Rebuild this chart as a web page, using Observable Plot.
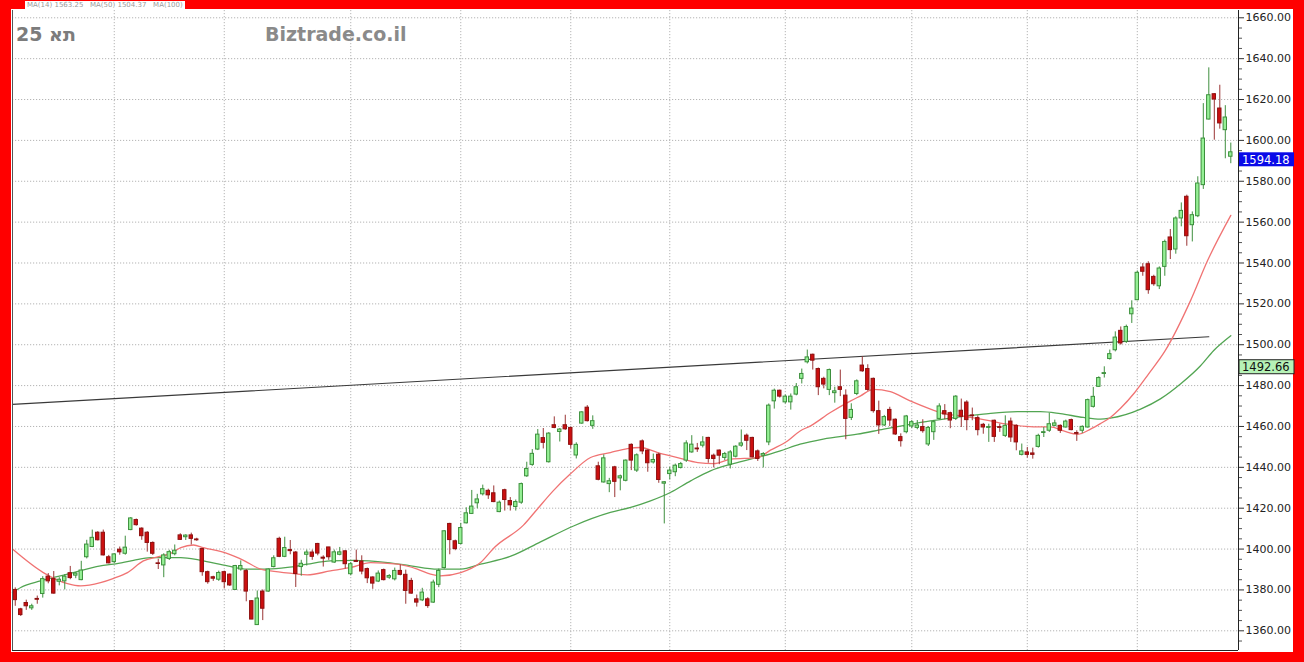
<!DOCTYPE html>
<html>
<head>
<meta charset="utf-8">
<script src="https://cdn.jsdelivr.net/npm/d3@7"></script>
<script src="https://cdn.jsdelivr.net/npm/@observablehq/plot@0.6"></script>
<style>
  html, body { margin: 0; padding: 0; width: 1304px; height: 662px; overflow: hidden; background: #ff0000; }
  #panel { position: absolute; left: 11px; top: 9px; width: 1282px; height: 643px; background: #ffffff; }
  #chart { position: absolute; left: 0; top: 0; }
  #legendStrip { position: absolute; left: 25px; top: 1px; height: 8px; padding: 0 2px; background: #fff; }
  #legendStrip span { display: block; font: 7px/8px "DejaVu Sans"; color: #9a9a9a; white-space: nowrap; }
  .ovl { position: absolute; font-family: "DejaVu Sans"; font-weight: bold; font-size: 19px; line-height: 19px; }
  #title { left: 16px; top: 25px; color: #7c7c7c; }
  #brand { left: 265px; top: 25px; color: #8a8a8a; }
</style>
</head>
<body>
<div id="panel"></div>
<div id="chart"></div>
<div id="legendStrip"><span>MA(14) 1563.25 &nbsp; MA(50) 1504.37 &nbsp; MA(100)</span></div>
<div id="title" class="ovl" dir="rtl">תא 25</div>
<div id="brand" class="ovl">Biztrade.co.il</div>
<script>
// ---- Daily candles (index 1..222) ----
const opens = [
1380,1370.5,1373.6,1371,1375.6,1378,1386.5,1385.3,1384,1384.2,
1388.2,1387,1384.8,1396,1401,1408,1408,1396,1393.6,1399.7,
1397.7,1409.3,1414.2,1410,1408,1403,1393,1392,1395.2,1397.5,
1406.7,1405.8,1406.7,1404.7,1400,1388.7,1386.2,1385,1388.7,1387.5,
1380,1390,1389.2,1374.5,1362.8,1379.2,1379.2,1391.2,1405,1396.2,
1399.5,1398.3,1391.2,1397.2,1398.3,1402.5,1395.8,1400.8,1393.4,1397.2,
1398.9,1387.7,1394.2,1393.9,1390.2,1386.1,1384.1,1389.7,1386,1385.2,
1389.3,1387.4,1384.4,1375.4,1374.9,1375.4,1373.8,1382.5,1390.7,1412.3,
1403.8,1402.5,1412.6,1417.2,1422.4,1426.8,1428.5,1427.3,1418.1,1428.8,
1423.5,1420.6,1422.7,1435.6,1441.2,1448.7,1454.3,1442.5,1460.6,1457.3,
1460.6,1459.3,1445.8,1461.4,1469.2,1460.3,1440.5,1432.6,1431.8,1440,
1434.6,1433.4,1451,1438.4,1452.7,1448.2,1442.4,1446.2,1432,1436.7,
1437.6,1439.7,1443.3,1447.3,1449.2,1450.6,1454.4,1445.7,1448.2,1444.6,
1441.3,1445.2,1450.6,1455.5,1454.4,1447.8,1445.7,1452.2,1472.3,1477.5,
1471.8,1471.8,1475.6,1483.3,1491.4,1495.1,1488.1,1483.3,1477.9,1476.3,
1479.2,1475.1,1464.2,1475.9,1489.8,1488.1,1483.3,1467.5,1460.5,1468.1,
1463.3,1454.8,1457.2,1460,1459.3,1459.7,1451.2,1457.2,1463.7,1467.5,
1466.5,1463.7,1467.7,1471.7,1465.4,1464.1,1460.8,1459.3,1462.8,1459.7,
1455.4,1462.4,1460.3,1446.1,1447.3,1446.8,1450,1456.8,1457.9,1460.3,
1460.3,1459.5,1463.1,1456.8,1457.9,1459.5,1469.6,1479.4,1485.7,1493,
1497.3,1506.8,1501.4,1514.9,1521.8,1537.8,1539.4,1533.2,1528.6,1538.1,
1552.5,1546.6,1561.8,1572.4,1558.5,1562.9,1578.1,1610.2,1622.6,1615.6,
1605,1592
];
const highs = [
1381,1371,1375,1373,1377,1386.5,1388,1389,1386,1387.5,
1391.5,1388.5,1394,1404.3,1409.3,1408.5,1409.3,1396.9,1397.7,1401,
1406.3,1415.4,1414.7,1410.4,1408.5,1403.5,1395,1397.7,1399.4,1402,
1407.5,1407,1407.8,1405.3,1400.3,1389.2,1386.7,1389.2,1389.2,1387.8,
1392,1394.2,1390,1374.8,1379.5,1380,1390.3,1396.7,1405.8,1405.8,
1404.2,1398.8,1394.5,1399.5,1399.5,1402.8,1396.7,1400.8,1399.5,1400.8,
1399.2,1393.4,1399.5,1396.7,1390.7,1386.4,1389.3,1390.2,1387.5,1390.7,
1392.3,1389.7,1385.7,1377.5,1380.8,1376.2,1384.8,1390.2,1409,1412.6,
1404.4,1412.6,1420.2,1428.7,1426.8,1431.3,1429.3,1430.9,1423.5,1429.3,
1425.2,1424,1432.3,1442.5,1448.7,1458.5,1459,1457,1464.7,1459,
1465.5,1459.6,1452,1467.2,1470.2,1465.2,1442.5,1446.1,1434.6,1440.5,
1436.2,1443.6,1451.5,1446.6,1453.4,1448.5,1446.5,1446.9,1433,1440,
1441.6,1442.4,1453,1455.5,1451.7,1455,1454.7,1446.5,1448.5,1447.3,
1448.2,1450.6,1458.3,1456.3,1454.7,1448.5,1447.2,1471,1478.3,1477.8,
1475.4,1475.9,1481,1488.1,1497.4,1495.4,1488.6,1484.1,1488.1,1479.2,
1487.6,1477.9,1471.1,1482.8,1494.1,1490.2,1483.7,1472.4,1465.4,1469.4,
1463.7,1456.4,1465.4,1462.9,1462.9,1463.3,1460,1462.9,1471.1,1470.7,
1467,1475.1,1473.4,1472.6,1469,1465.2,1461.5,1461.1,1463.1,1461.1,
1465.2,1464.1,1460.8,1451.4,1449.7,1449.4,1456.2,1459.5,1466.4,1463.1,
1460.8,1463.1,1463.6,1457.9,1460.3,1473.4,1479.1,1484.3,1489.2,1497.4,
1506.3,1508.7,1509.6,1521.5,1536.1,1539.7,1540.6,1534,1538.1,1551.2,
1556.4,1562.6,1569.4,1573.2,1565,1582.2,1618,1635.5,1622.9,1627,
1617,1598.7
];
const lows = [
1372,1367,1370,1370,1373,1376,1383,1378,1382,1380,
1385,1385.5,1384.5,1395.2,1400.7,1404,1396.6,1392.8,1393,1397,
1397,1409,1411.2,1404.3,1398.5,1396.9,1390,1386,1394.4,1396.7,
1404.2,1404.2,1402,1403.8,1386.7,1382.8,1384.2,1384.2,1380.5,1381.7,
1380,1389.2,1374.2,1365.5,1362.8,1365,1378.8,1390.8,1395.8,1395.8,
1397.2,1381.2,1386.7,1391.7,1394.5,1396.7,1391.2,1394.5,1393,1396.7,
1390.2,1386.9,1393.4,1387.4,1383.1,1380.3,1383.6,1384.4,1385.2,1384.4,
1386.9,1373,1377.9,1371.6,1374.3,1371,1373.4,1381.1,1390.2,1397.2,
1399.2,1402.1,1412.3,1416.9,1419.7,1426,1424.3,1422.7,1417.8,1418.6,
1418.6,1418.6,1421.9,1435.1,1440.5,1448.2,1449,1442.1,1458.9,1452.4,
1458.1,1449,1444.1,1461.1,1462.2,1458.6,1433.4,1432.3,1427.6,1425.2,
1428.5,1432.9,1438.4,1437.5,1446.2,1437.6,1441.6,1432.2,1412.3,1433.8,
1435.4,1439.2,1442.4,1446.9,1447.3,1449.5,1442,1439.7,1441.3,1443.3,
1439.2,1444.6,1449.8,1448.2,1444.6,1442.9,1439.7,1450.6,1468.5,1473.9,
1471,1468,1475,1480.8,1490.6,1487.6,1475.1,1478.4,1475.1,1471.4,
1474.6,1453.5,1462.9,1475.1,1486.5,1477.2,1466.5,1456.1,1460,1460,
1455.6,1449.9,1456.4,1458.9,1458.4,1456.7,1450.2,1453.2,1463.3,1463.3,
1458.9,1462.9,1459.5,1457.9,1462.8,1455.4,1456.2,1452.2,1452.2,1457.1,
1454.6,1452.2,1448.1,1445.6,1444.5,1444,1449.4,1454.6,1457.1,1459.8,
1456.6,1459.2,1457.9,1452.7,1456.6,1459.2,1469,1479.1,1483.7,1492.5,
1496.5,1499.8,1500.6,1510.4,1521.5,1533.5,1524.7,1528.6,1527,1533.5,
1541.7,1544.3,1557.7,1548.2,1550.3,1562.2,1576,1610,1600.1,1605.5,
1591,1588.6
];
const closes = [
1375,1367.7,1372,1372,1375.2,1385.3,1384.2,1378.2,1385,1386.5,
1385.8,1388,1389.5,1402.2,1405.5,1404.3,1396.9,1393,1397.4,1398.4,
1400.7,1415,1411.7,1406.3,1403,1397.7,1392.7,1396.9,1398.5,1399.2,
1404.5,1406.6,1405,1404.3,1388.7,1383.8,1385.5,1388.3,1383.8,1382.2,
1391.7,1391.7,1379.2,1365.5,1375.8,1370.8,1390,1395.5,1396.2,1400.5,
1399,1387.8,1392.8,1398.3,1396.2,1397.8,1395.3,1396,1398.4,1398.4,
1392.6,1392.6,1393.7,1389,1385.7,1383.1,1388,1384.8,1386.8,1389.3,
1387.4,1379.5,1378.2,1373.8,1378.7,1372.1,1383.6,1389.3,1408.7,1404.4,
1400,1410.3,1417.5,1420.8,1424.3,1429.3,1426.3,1423,1422.7,1424,
1421.4,1423,1431.8,1439.2,1446.6,1456,1452,1456.5,1459.3,1458.5,
1458.6,1451,1451,1466.9,1462.6,1462.6,1433.9,1444.4,1433.2,1432.9,
1435.6,1443.3,1443.3,1445.9,1447.8,1442,1443.6,1433.8,1432.7,1438.4,
1440.8,1441.6,1451.7,1451.1,1448.8,1452.2,1444.1,1444.1,1445.7,1446.5,
1447.3,1450.1,1451.7,1453,1444.9,1444.1,1446.5,1470.2,1477.5,1474.6,
1474.6,1474.6,1479.2,1485.7,1493.8,1492.2,1479.2,1480.5,1487.6,1477.2,
1477.9,1463.7,1468.1,1482.1,1487,1477.9,1467.5,1460.5,1464.6,1462.9,
1456.1,1452.8,1464.9,1462.1,1460.5,1457.7,1459.3,1462.1,1469.8,1465.9,
1462.9,1474.6,1464.7,1463.1,1465,1458.2,1459.5,1459.7,1454.9,1459.3,
1460.3,1454.6,1452.2,1447.8,1446.1,1446.1,1455.4,1457.2,1461.1,1461.5,
1457.9,1462.4,1458.2,1456.4,1459.8,1472.9,1474.5,1483.7,1486.1,1495.4,
1503.5,1500.6,1508.7,1517.7,1535.2,1535.7,1526.7,1529.6,1537.3,1550.3,
1546.3,1561.8,1565.5,1553.1,1563.4,1578.9,1600.9,1622.1,1620,1608.3,
1611.2,1594.18
];

// ---- Moving averages (candle index, value) ----
const maRedIdx = [0.5,6.1,10.5,12.9,16.5,18.9,21.4,24.3,26.9,29.2,31.1,33.4,35.2,39.6,42.5,45.6,47.4,51.6,54.1,58.3,62,65.6,70.5,74.1,76.5,78.3,82,85.6,88.2,93.4,95.9,98.8,101.9,105.6,109.2,112.3,114.7,117.8,121.4,125.1,128,131.1,136,138.3,141.4,143.7,145.6,149.2,152.9,154.7,157,160.1,163.7,167.4,169.7,172.8,174.7,178.3,181.4,186.1,189.2,191.6,194.2,196.5,198.3,200.1,202,204.5,207,210.1,214.7,217.8,222];
const maRedVal = [1400,1388.5,1383.1,1382,1383.6,1385.7,1388.5,1394.2,1396.2,1397.8,1400.7,1402,1400.7,1397.8,1394.5,1390.2,1389.3,1388,1387.4,1389.3,1391,1393.4,1392.6,1390.2,1387.7,1386.9,1388.5,1393.4,1401,1411.7,1419.5,1428.5,1436.7,1444.8,1447.2,1449.2,1449.7,1447.2,1444.8,1442.3,1441.8,1444,1444.8,1448.4,1452.9,1457.8,1460.3,1466.8,1472.5,1475,1478.2,1477,1472.5,1468.5,1466.3,1465.2,1464.4,1462.7,1461.1,1459.8,1459.8,1457.8,1456.2,1458.7,1461.4,1464.4,1469,1476.5,1485.5,1497.2,1521.7,1541.3,1563.3];
const maGreenIdx = [0.5,2,5.6,10.5,16.5,18.9,22.5,25.6,31.1,34.7,39.6,43.2,46.9,50.5,54.1,58.3,62.5,68.7,72.9,77.8,82,85.6,91.1,96.5,102.5,109.2,112.9,116.5,120.1,123.8,127.4,131.1,134.7,137,140.1,143.7,147.9,154.1,158.9,163.2,167.4,171,177,183.2,187.4,191,195.2,198.3,200.1,205.6,209.2,212.9,216.5,218.9,222];
const maGreenVal = [1378.7,1381.2,1384.4,1387.7,1391.8,1392.6,1394.5,1395.8,1395.8,1394.5,1391.8,1390.2,1390.2,1391,1392.6,1394.2,1394.5,1393.4,1391.8,1390.2,1390.2,1392.6,1396.5,1403.5,1411.3,1417.9,1420.4,1423.6,1427.7,1433.4,1438.3,1441.5,1444,1445.6,1448.1,1451.3,1453.8,1456.2,1458.7,1460.8,1462.7,1464.1,1466,1467.3,1467.3,1466.3,1464.4,1463.6,1464.1,1468.5,1473.5,1480.9,1489.7,1497.2,1504.4];

// ---- Trend line (candle index, value) ----
const trendIdx = [0.5, 218];
const trendVal = [1470.8, 1503.9];

// ---- Axis ticks / month separators / price tags ----
const yTicks = [1360,1380,1400,1420,1440,1460,1480,1500,1520,1540,1560,1580,1600,1620,1640,1660];
const yMinorTicks = [1355,1365,1370,1375,1385,1390,1395,1405,1410,1415,1425,1430,1435,1445,1450,1455,1465,1470,1475,1485,1490,1495,1505,1510,1515,1525,1530,1535,1545,1550,1555,1565,1570,1575,1585,1590,1595,1605,1610,1615,1625,1630,1635,1645,1650,1655];
const monthStarts = [19, 39, 62, 82, 102, 120, 141, 164, 185, 205];
const lastPrice = 1594.18;
const maTagValue = 1492.66;

const candles = closes.map((c, k) => ({
  i: k + 1, open: opens[k], high: highs[k], low: lows[k], close: c, up: c >= opens[k]
}));
const redLine = maRedIdx.map((x, k) => ({x, y: maRedVal[k]}));
const greenLine = maGreenIdx.map((x, k) => ({x, y: maGreenVal[k]}));
const trend = trendIdx.map((x, k) => ({x, y: trendVal[k]}));

const xDomain = [0.5, 223.4];
const yDomain = [1350.36, 1663.57];

function priceTag(value, label, bg, fg, border) {
  return (index, scales, values, dims) => {
    const y = scales.y(value);
    const x = dims.width - dims.marginRight + 1;
    const g = d3.create("svg:g");
    g.append("rect").attr("x", x).attr("y", y + 0.5).attr("width", 55).attr("height", 14)
      .attr("fill", bg).attr("stroke", border).attr("stroke-width", border === "none" ? 0 : 1);
    g.append("text").attr("x", x + 3).attr("y", y + 12).attr("fill", fg)
      .attr("text-anchor", "start")
      .attr("font-size", 11.5).attr("font-family", "DejaVu Sans").text(label);
    return g.node();
  };
}

const chart = Plot.plot({
  width: 1304,
  height: 662,
  marginLeft: 12,
  marginRight: 66,
  marginTop: 10,
  marginBottom: 12,
  style: {background: "transparent", fontFamily: "DejaVu Sans", overflow: "visible"},
  x: {type: "linear", domain: xDomain, axis: null},
  y: {domain: yDomain},
  color: {type: "identity"},
  marks: [
    Plot.gridY(yTicks, {stroke: "#b4b4b4", strokeOpacity: 1, strokeDasharray: "1.2,1.8"}),
    Plot.gridX(monthStarts, {stroke: "#b4b4b4", strokeOpacity: 1, strokeDasharray: "1.2,1.8"}),
    Plot.axisY(yMinorTicks, {anchor: "right", tickSize: 3, tickFormat: () => "", label: null, stroke: "#555"}),
    Plot.axisY(yTicks, {anchor: "right", tickSize: 5, tickPadding: 2, tickFormat: d => d.toFixed(2),
      label: null, fontSize: 11, fill: "#222", stroke: "#333"}),
    Plot.line(trend, {x: "x", y: "y", stroke: "#3a3a3a", strokeWidth: 1.2}),
    Plot.line(greenLine, {x: "x", y: "y", stroke: "#52a552", strokeWidth: 1.3, curve: "monotone-x"}),
    Plot.line(redLine, {x: "x", y: "y", stroke: "#f07373", strokeWidth: 1.3, curve: "monotone-x"}),
    Plot.ruleX(candles, {x: "i", y1: "low", y2: "high",
      stroke: d => d.up ? "#3f8f3f" : "#9a3434", strokeWidth: 1}),
    Plot.rect(candles, {x1: d => d.i - 0.31, x2: d => d.i + 0.31, y1: "open", y2: "close",
      fill: d => d.up ? "#95f095" : "#cc1010",
      stroke: d => d.up ? "#3c8f3c" : "#8e1010", strokeWidth: 1}),
    Plot.ruleY([yDomain[0]], {stroke: "#222", strokeWidth: 1}),
    Plot.ruleX([xDomain[0]], {stroke: "#555", strokeWidth: 1}),
    Plot.ruleX([xDomain[1]], {stroke: "#222", strokeWidth: 1}),
    priceTag(maTagValue, maTagValue.toFixed(2), "#b6f2b6", "#111", "#222"),
    priceTag(lastPrice, lastPrice.toFixed(2), "#0a0ae8", "#ffffff", "none")
  ]
});
document.getElementById("chart").appendChild(chart);
</script>
</body>
</html>
